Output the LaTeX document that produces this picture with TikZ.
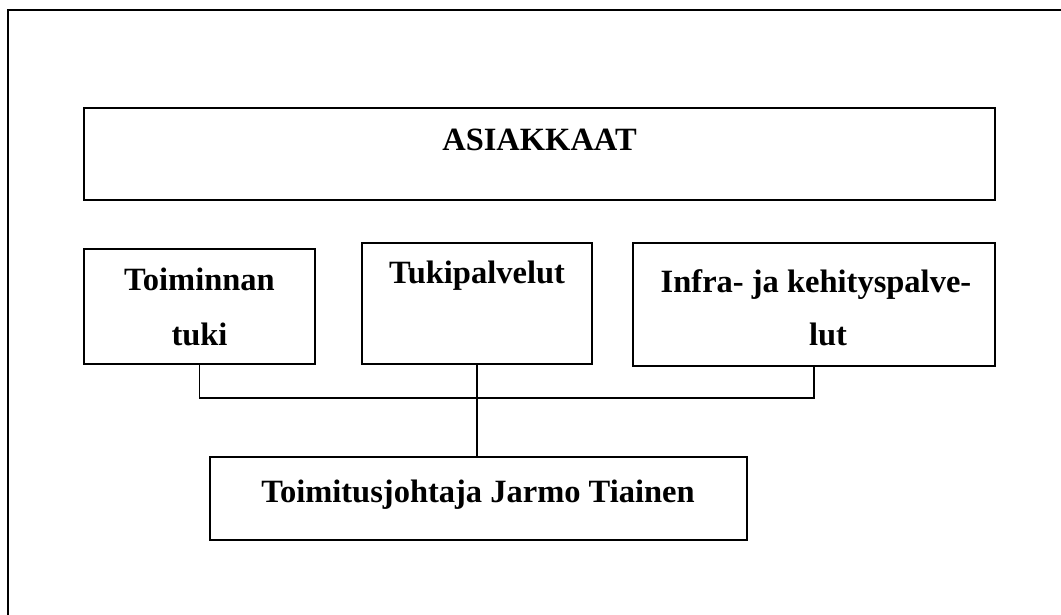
\documentclass[tikz,border=0pt]{standalone}
\usepackage{fontspec}
\setmainfont{Liberation Serif}
\begin{document}
\begin{tikzpicture}[x=1pt,y=-1pt,
  box/.style={draw=black,line width=1.8pt,rectangle,inner sep=0pt},
  txt/.style={anchor=base,inner sep=0pt,font=\fontsize{32.5}{36}\selectfont\bfseries},
  wire/.style={draw=black,line width=1.6pt}]
  \useasboundingbox (0,0) rectangle (1061,614);
  % outer frame (only its left and top sides lie inside the page)
  \draw[line width=2pt] (8,620) -- (8,10) -- (1070,10);
  % boxes
  \node[box,minimum width=911pt,minimum height=92pt] (cust) at (539.5,154) {};
  \node[box,minimum width=231pt,minimum height=115pt] (ops) at (199.5,306.5) {};
  \node[box,minimum width=230pt,minimum height=121pt] (supp) at (477,303.5) {};
  \node[box,minimum width=362pt,minimum height=123pt] (infra) at (814,304.5) {};
  \node[box,minimum width=537pt,minimum height=83pt] (ceo) at (478.5,498.5) {};
  % texts
  \node[txt] (custT) at (539.5,150) {ASIAKKAAT};
  \node[txt] (opsT1) at (199.5,290) {Toiminnan};
  \node[txt] (opsT2) at (199.5,345) {tuki};
  \node[txt] (suppT) at (477,283) {Tukipalvelut};
  \node[txt] (infraT1) at (816,292) {Infra- ja kehityspalve-};
  \node[txt] (infraT2) at (828,345) {lut};
  \node[txt] (ceoT) at (478,502) {Toimitusjohtaja Jarmo Tiainen};
  % connectors
  \coordinate (bus) at (0,398);
  \draw[wire] (ops.south) -- (ops.south |- bus) -- (infra.south |- bus) -- (infra.south);
  \draw[wire] (supp.south) -- (supp.south |- ceo.north);
\end{tikzpicture}
\end{document}
